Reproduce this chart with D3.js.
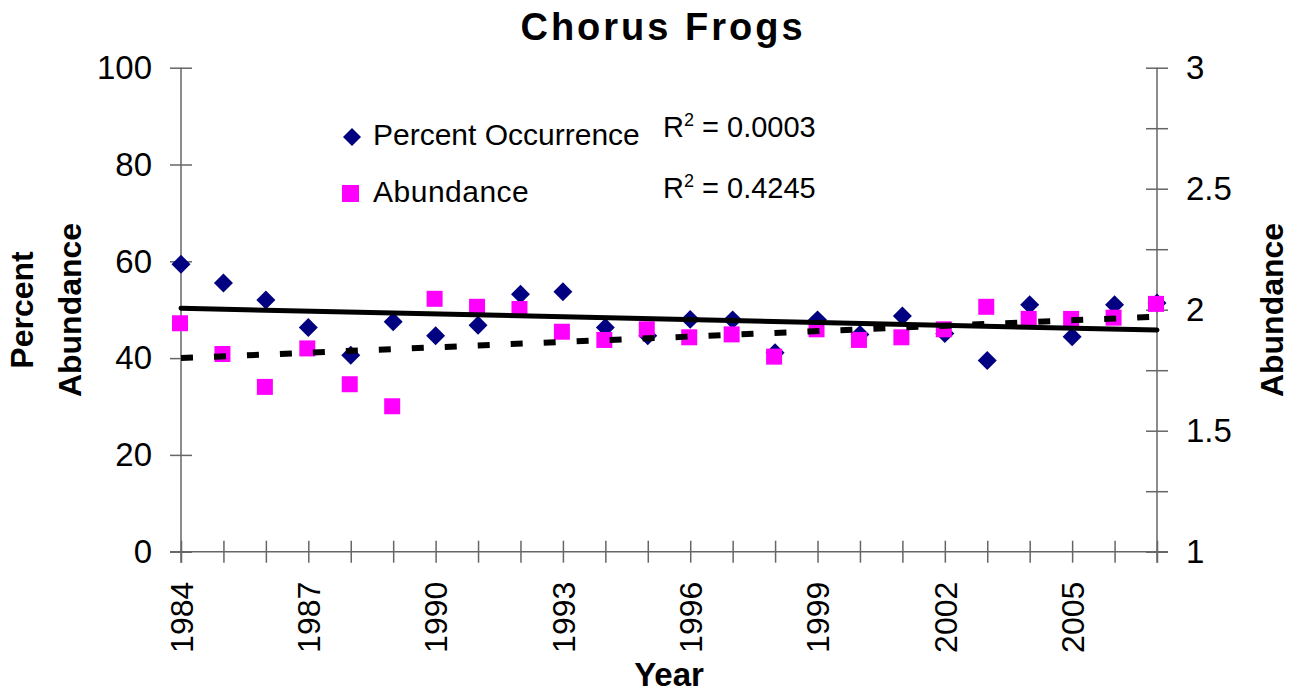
<!DOCTYPE html>
<html>
<head>
<meta charset="utf-8">
<script src="https://cdn.jsdelivr.net/npm/d3@7"></script>
<style>
body { margin: 0; background: #fff; }
text { font-family: "Liberation Sans", Arial, sans-serif; fill: #000; }
</style>
</head>
<body>
<script>

// data
var years = d3.range(1984, 2008)
var occurrence = [59.4, 55.5, 52.0, 46.3, 40.6, 47.5, 44.6, 46.8, 53.2, 53.7, 46.3, 44.6,
  48.0, 47.9, 41.1, 47.9, 44.9, 48.7, 45.1, 39.5, 51.0, 44.4, 51.0, 51.4]
var abundance = [1.944, 1.817, 1.681, 1.840, 1.692, 1.601, 2.045, 2.012, 2.003, 1.909, 1.875, 1.919,
  1.886, 1.898, 1.806, 1.919, 1.875, 1.886, 1.919, 2.012, 1.962, 1.962, 1.967, 2.024]
var trendYears = [1984, 2007]
var occTrend = [50.3, 45.8]
var abundTrend = [1.80, 1.971]
var labelYears = [1984, 1987, 1990, 1993, 1996, 1999, 2002, 2005]
var leftTicks = [0, 20, 40, 60, 80, 100]
var rightTicks = [1, 1.25, 1.5, 1.75, 2, 2.25, 2.5, 2.75, 3]
var rightLabels = [1, 1.5, 2, 2.5, 3]

var W = 1299, H = 698
var pLeft = 181, pRight = 1157, pTop = 67.7, pBottom = 551.7

var svg = d3.select("body").append("svg").attr("width", W).attr("height", H)

var x = d3.scaleLinear().domain([1984, 2007]).range([pLeft, pRight])
var yL = d3.scaleLinear().domain([0, 100]).range([pBottom, pTop])
var yR = d3.scaleLinear().domain([1, 3]).range([pBottom, pTop])

var axisColor = "#666"
var fontFam = "'Liberation Sans', Arial, sans-serif"

// x axis
var gx = svg.append("g").attr("transform", "translate(0," + pBottom + ")")
  .call(d3.axisBottom(x).tickValues(years).tickSizeInner(11).tickSizeOuter(0)
    .tickFormat(function(d) { return labelYears.indexOf(d) >= 0 ? d : "" }))
gx.select(".domain").attr("d", "M" + (pLeft - 11) + ",0H" + (pRight + 11))
  .attr("stroke", axisColor).attr("stroke-width", 1.5)
gx.selectAll(".tick line").attr("y1", -11).attr("stroke", axisColor).attr("stroke-width", 1.5)
gx.selectAll(".tick text")
  .attr("transform", "rotate(-90)")
  .attr("text-anchor", "end")
  .attr("x", -30).attr("y", 0).attr("dy", "0.35em")
  .attr("font-size", 32)
  .style("font-family", fontFam)

// left axis
var gl = svg.append("g").attr("transform", "translate(" + pLeft + ",0)")
  .call(d3.axisLeft(yL).tickValues(leftTicks).tickSizeInner(11).tickSizeOuter(0).tickPadding(18))
gl.select(".domain").attr("d", "M0," + pTop + "V" + (pBottom + 11))
  .attr("stroke", axisColor).attr("stroke-width", 1.5)
gl.selectAll(".tick line").attr("x1", 11).attr("stroke", axisColor).attr("stroke-width", 1.5)
gl.selectAll(".tick text").attr("font-size", 33).attr("dy", "0.33em")
  .style("font-family", fontFam)

// right axis
var gr = svg.append("g").attr("transform", "translate(" + pRight + ",0)")
  .call(d3.axisRight(yR).tickValues(rightTicks).tickSizeInner(11).tickSizeOuter(0).tickPadding(18)
    .tickFormat(function(d) { return rightLabels.indexOf(d) >= 0 ? d : "" }))
gr.select(".domain").attr("d", "M0," + pTop + "V" + (pBottom + 11))
  .attr("stroke", axisColor).attr("stroke-width", 1.5)
gr.selectAll(".tick line").attr("x1", -11).attr("stroke", axisColor).attr("stroke-width", 1.5)
gr.selectAll(".tick text").attr("font-size", 33).attr("dy", "0.33em")
  .style("font-family", fontFam)

// points
var diamond = d3.symbol().type(d3.symbolSquare).size(180)
var square = d3.symbol().type(d3.symbolSquare).size(256)

svg.append("g").selectAll("path")
  .data(years)
  .enter().append("path")
  .attr("d", diamond)
  .attr("transform", function(d, i) { return "translate(" + x(d) + "," + yL(occurrence[i]) + ") rotate(45)" })
  .attr("fill", "#000080")

svg.append("g").selectAll("path")
  .data(years)
  .enter().append("path")
  .attr("d", square)
  .attr("transform", function(d, i) { return "translate(" + (x(d) - 1) + "," + yR(abundance[i]) + ")" })
  .attr("fill", "#ff00ff")

// trend lines
svg.append("path")
  .datum(trendYears)
  .attr("d", d3.line().x(function(d) { return x(d) }).y(function(d, i) { return yR(abundTrend[i]) }))
  .attr("stroke", "#000").attr("stroke-width", 6).attr("stroke-dasharray", "12,21").attr("fill", "none")

svg.append("path")
  .datum(trendYears)
  .attr("d", d3.line().x(function(d) { return x(d) }).y(function(d, i) { return yL(occTrend[i]) }))
  .attr("stroke", "#000").attr("stroke-width", 5).attr("stroke-linecap", "round").attr("fill", "none")

// title
svg.append("text")
  .attr("x", 663).attr("y", 40)
  .attr("text-anchor", "middle")
  .attr("font-size", 38).attr("font-weight", "bold")
  .attr("letter-spacing", 3)
  .text("Chorus Frogs")

// axis titles
var lt = svg.append("text")
  .attr("transform", "translate(33,310) rotate(-90)")
  .attr("text-anchor", "middle")
  .attr("font-size", 32).attr("font-weight", "bold")
lt.append("tspan").attr("x", 0).attr("y", 0).text("Percent")
lt.append("tspan").attr("x", 0).attr("y", 48).text("Abundance")

svg.append("text")
  .attr("transform", "translate(1283,310) rotate(-90)")
  .attr("text-anchor", "middle")
  .attr("font-size", 32).attr("font-weight", "bold")
  .text("Abundance")

svg.append("text")
  .attr("x", 669).attr("y", 686)
  .attr("text-anchor", "middle")
  .attr("font-size", 33).attr("font-weight", "bold")
  .text("Year")

// legend
var legend = svg.append("g")
legend.append("path").attr("d", d3.symbol().type(d3.symbolSquare).size(162))
  .attr("transform", "translate(352,137) rotate(45)").attr("fill", "#000080")
legend.append("text").attr("x", 373).attr("y", 145).attr("font-size", 30).text("Percent Occurrence")
legend.append("rect").attr("x", 342).attr("y", 185).attr("width", 17).attr("height", 17).attr("fill", "#ff00ff")
legend.append("text").attr("x", 373).attr("y", 202).attr("font-size", 30).attr("letter-spacing", 0.5).text("Abundance")

// R squared labels
var r2 = ["0.0003", "0.4245"]
var r2y = [137, 198]
r2.forEach(function(v, i) {
  var t = svg.append("text").attr("x", 663).attr("y", r2y[i]).attr("font-size", 29)
  t.append("tspan").text("R")
  t.append("tspan").attr("font-size", 18).attr("dy", -11).text("2")
  t.append("tspan").attr("dy", 11).text(" = " + v)
})

</script>
</body>
</html>
